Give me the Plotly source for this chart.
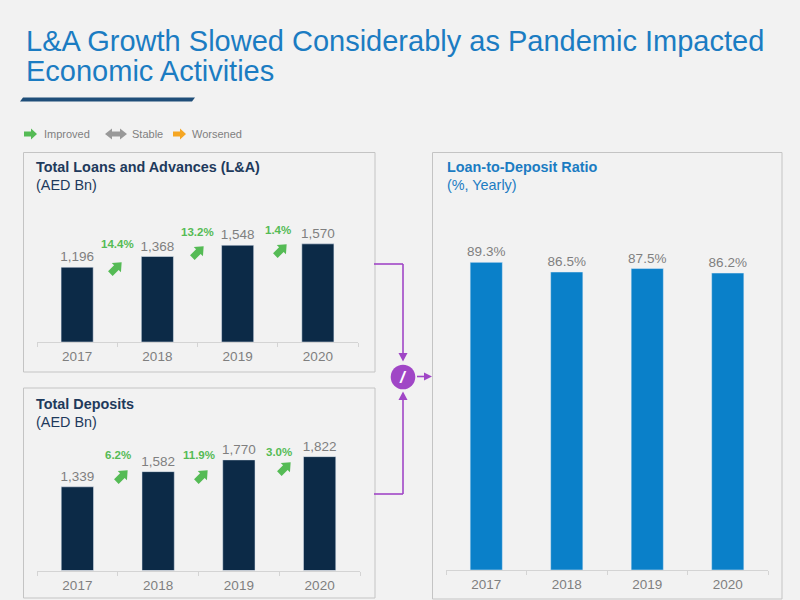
import math
import plotly.graph_objects as go

# ---------------- data ----------------
years = ["2017", "2018", "2019", "2020"]
loans = [1196, 1368, 1548, 1570]
loan_growth = ["14.4%", "13.2%", "1.4%"]
deposits = [1339, 1582, 1770, 1822]
deposit_growth = ["6.2%", "11.9%", "3.0%"]
ltd_ratio = [89.3, 86.5, 87.5, 86.2]

W, H = 800, 600
FONT = "Liberation Sans, Arial, sans-serif"
NAVY = "#0c2a47"
BLUE = "#0a80c9"
TITLE_BLUE = "#1b7cc2"
GREY_TXT = "#7f7f7f"
GREEN = "#55bb55"
ORANGE = "#f5a623"
PURPLE = "#a046c6"
BORDER = "#c4c4c4"
AXIS = "#d4d4d4"


def X(px):
    return px / W


def Y(py):
    return 1 - py / H


fig = go.Figure()

bar_common = dict(textposition="outside", constraintext="none", cliponaxis=False,
                  hoverinfo="skip", textfont=dict(size=13.5, color=GREY_TXT, family=FONT))
fig.add_trace(go.Bar(x=years, y=loans, marker_color=NAVY, xaxis="x", yaxis="y",
                     texttemplate="%{y:,}", **bar_common))
fig.add_trace(go.Bar(x=years, y=deposits, marker_color=NAVY, xaxis="x2", yaxis="y2",
                     texttemplate="%{y:,}", **bar_common))
fig.add_trace(go.Bar(x=years, y=ltd_ratio, marker_color=BLUE, xaxis="x3", yaxis="y3",
                     texttemplate="%{y:.1f}%", **bar_common))

xcommon = dict(showline=True, linecolor=AXIS, linewidth=1, ticks="outside",
               tickcolor=AXIS, ticklen=4, tickson="boundaries", showgrid=False,
               zeroline=False, tickfont=dict(size=13.5, color=GREY_TXT, family=FONT),
               ticklabelstandoff=2, fixedrange=True)
ycommon = dict(visible=False, fixedrange=True)

fig.update_layout(
    width=W, height=H, autosize=False,
    margin=dict(l=0, r=0, t=0, b=0),
    paper_bgcolor="#f2f2f2", plot_bgcolor="rgba(0,0,0,0)",
    showlegend=False, bargap=0.6,
    font=dict(family=FONT),
    xaxis=dict(domain=[X(37), X(358)], anchor="y", **xcommon),
    yaxis=dict(domain=[Y(342), Y(192)], range=[0, 2400], anchor="x", **ycommon),
    xaxis2=dict(domain=[X(37), X(360)], anchor="y2", **xcommon),
    yaxis2=dict(domain=[Y(570.5), Y(420.5)], range=[0, 2400], anchor="x2", **ycommon),
    xaxis3=dict(domain=[X(446), X(768)], anchor="y3", **xcommon),
    yaxis3=dict(domain=[Y(570), Y(200)], range=[0, 107.4], anchor="x3", **ycommon),
)

shapes = []
annos = []


def rect(x0, y0, x1, y1):
    shapes.append(dict(type="rect", xref="paper", yref="paper", x0=X(x0), x1=X(x1),
                       y0=Y(y1), y1=Y(y0), line=dict(color=BORDER, width=1),
                       fillcolor="rgba(0,0,0,0)", layer="below"))


def poly(points, color):
    d = "M " + " L ".join(f"{X(px):.5f},{Y(py):.5f}" for px, py in points) + " Z"
    shapes.append(dict(type="path", xref="paper", yref="paper", path=d,
                       fillcolor=color, line=dict(width=0)))


def block_arrow(cx, cy, L, sw, hw, hl, ang_deg, color, double=False):
    if double:
        pts = [(-L / 2, 0), (-L / 2 + hl, -hw / 2), (-L / 2 + hl, -sw / 2),
               (L / 2 - hl, -sw / 2), (L / 2 - hl, -hw / 2), (L / 2, 0),
               (L / 2 - hl, hw / 2), (L / 2 - hl, sw / 2), (-L / 2 + hl, sw / 2),
               (-L / 2 + hl, hw / 2)]
    else:
        pts = [(-L / 2, -sw / 2), (L / 2 - hl, -sw / 2), (L / 2 - hl, -hw / 2),
               (L / 2, 0), (L / 2 - hl, hw / 2), (L / 2 - hl, sw / 2), (-L / 2, sw / 2)]
    a = math.radians(ang_deg)
    out = []
    for px, py in pts:
        rx = px * math.cos(a) - py * math.sin(a)
        ry = px * math.sin(a) + py * math.cos(a)
        out.append((cx + rx, cy + ry))
    poly(out, color)


def text(x, y, s, size, color, anchor="left", bold=False):
    annos.append(dict(xref="paper", yref="paper", x=X(x), y=Y(y), text=f"<b>{s}</b>" if bold else s,
                      showarrow=False, xanchor=anchor, yanchor="middle",
                      font=dict(size=size, color=color, family=FONT)))


def pline(x0, y0, x1, y1):
    shapes.append(dict(type="line", xref="paper", yref="paper", x0=X(x0), y0=Y(y0),
                       x1=X(x1), y1=Y(y1), line=dict(color=PURPLE, width=1.6)))


# ---------------- title ----------------
text(24, 41, "L&A Growth Slowed Considerably as Pandemic Impacted", 29, TITLE_BLUE)
text(24, 71, "Economic Activities", 29, TITLE_BLUE)
poly([(23, 97.5), (195, 97.5), (192, 101.5), (20, 101.5)], "#1f4e79")

# ---------------- legend ----------------
block_arrow(30.5, 134, 13, 5, 11, 6, 0, GREEN)
text(42, 134, "Improved", 11, GREY_TXT)
block_arrow(116, 134, 22, 5, 11, 7, 0, "#999999", double=True)
text(130, 134, "Stable", 11, GREY_TXT)
block_arrow(179.5, 134, 13, 5, 11, 6, 0, ORANGE)
text(190, 134, "Worsened", 11, GREY_TXT)

# ---------------- panels ----------------
rect(23.5, 152.5, 375, 372)
rect(23.5, 388, 375, 598)
rect(432.5, 152.5, 782, 599)

TS = 14.4
text(34, 167, "Total Loans and Advances (L&A)", TS, "#1e3a5c", bold=True)
text(34, 185, "(AED Bn)", TS, "#1e3a5c")
text(34, 404, "Total Deposits", TS, "#1e3a5c", bold=True)
text(34, 422, "(AED Bn)", TS, "#1e3a5c")
text(445, 167, "Loan-to-Deposit Ratio", TS, TITLE_BLUE, bold=True)
text(445, 185, "(%, Yearly)", TS, TITLE_BLUE)

# ---------------- growth labels + arrows ----------------
loan_label_py = [244, 232, 230]
loan_arrow_py = [268, 252, 250]
for i, g in enumerate(loan_growth):
    annos.append(dict(xref="x", yref="paper", x=i + 0.5, y=Y(loan_label_py[i]), text=f"<b>{g}</b>",
                      showarrow=False, xanchor="center", yanchor="middle",
                      font=dict(size=11.5, color=GREEN, family=FONT)))
dep_label_py = [455, 455, 452]
dep_arrow_py = [476, 476, 468]
for i, g in enumerate(deposit_growth):
    annos.append(dict(xref="x2", yref="paper", x=i + 0.5, y=Y(dep_label_py[i]), text=f"<b>{g}</b>",
                      showarrow=False, xanchor="center", yanchor="middle",
                      font=dict(size=11.5, color=GREEN, family=FONT)))

loan_arrow_px = [116, 198, 281]
dep_arrow_px = [122, 202, 285]
for cx, cy in zip(loan_arrow_px, loan_arrow_py):
    block_arrow(cx, cy, 16, 6.5, 13, 7.5, -45, GREEN)
for cx, cy in zip(dep_arrow_px, dep_arrow_py):
    block_arrow(cx, cy, 16, 6.5, 13, 7.5, -45, GREEN)

# ---------------- connectors ----------------
pline(374, 264, 403, 264)
pline(403, 264, 403, 354)
poly([(403, 361.5), (398.5, 353), (407.5, 353)], PURPLE)
pline(374, 494, 403, 494)
pline(403, 494, 403, 400)
poly([(403, 391.5), (398.5, 400), (407.5, 400)], PURPLE)
pline(417, 376.5, 425, 376.5)
poly([(432, 376.5), (424, 372.5), (424, 380.5)], PURPLE)
r = 12.3
shapes.append(dict(type="circle", xref="paper", yref="paper", x0=X(403 - r), x1=X(403 + r),
                   y0=Y(377 + r), y1=Y(377 - r), fillcolor=PURPLE, line=dict(width=0)))
annos.append(dict(xref="paper", yref="paper", x=X(403), y=Y(377), text="<b><i>/</i></b>",
                  showarrow=False, xanchor="center", yanchor="middle",
                  font=dict(size=17, color="white", family=FONT)))

fig.update_layout(shapes=shapes, annotations=annos)
fig.write_html(
    "out.html",
    config={"displayModeBar": False},
    post_script="document.body.style.margin='0';document.body.style.padding='0';"
                "document.body.style.background='#f2f2f2';document.body.style.overflow='hidden';",
)
